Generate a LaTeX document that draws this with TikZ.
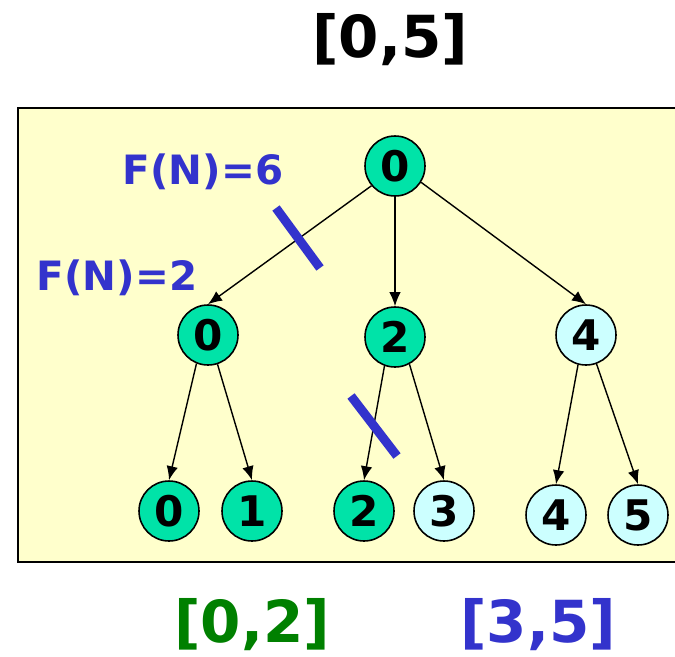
\documentclass[tikz,border=0pt]{standalone}
\usepackage{fontspec}
\setmainfont{DejaVu Sans}
\usetikzlibrary{arrows.meta,positioning}
\definecolor{trgreen}{HTML}{00E3A8}
\definecolor{trcyan}{HTML}{CCFFFF}
\definecolor{trpanel}{HTML}{FFFFCC}
\definecolor{trblue}{HTML}{3333CC}
\definecolor{trdark}{HTML}{008000}
\tikzset{
  nd/.style={circle, draw=black, line width=0.9pt, minimum size=1.2cm, inner sep=0pt, font=\fontsize{24}{26}\selectfont\bfseries},
  on/.style={nd, fill=trgreen},
  off/.style={nd, fill=trcyan},
  arr/.style={-{Latex[length=2.8mm, width=2.3mm]}, line width=0.8pt, color=black},
  cut/.style={line width=1.8mm, color=trblue},
  fn/.style={font=\fontsize{23}{25}\selectfont\bfseries, color=trblue},
  rng/.style={font=\fontsize{33}{35}\selectfont\bfseries},
}
\begin{document}
\begin{tikzpicture}[x=0.02cm, y=-0.02cm]
    \useasboundingbox (0,0) rectangle (675,656);
    \draw[fill=trpanel, line width=1pt] (18,108) rectangle (690,562);
    % ranges
    \node[rng] (all) at (390,40) {[0,5]};
    \node[rng, color=trdark] (lo) at (252,625) {[0,2]};
    \node[rng, color=trblue] (hi) at (538,625) {[3,5]};
    % root
    \node[on] (r) at (395,166) {0};
    % row 2
    \node[on] (a) at (208,335) {0};
    \node[on] (b) at (395,337) {2};
    \node[off] (c) at (586,335) {4};
    % row 3
    \node[on] (a0) at (169,511) {0};
    \node[on] (a1) at (252,511) {1};
    \node[on] (b2) at (364,511) {2};
    \node[off] (b3) at (444,511) {3};
    \node[off] (c4) at (556,515) {4};
    \node[off] (c5) at (638,515) {5};
    \foreach \a/\b in {r.-140/a,r.south/b,r.-32/c,a.-112/a0,a.-72/a1,b.-110/b2,b.-62/b3,c.-105/c4,c.-70/c5} \draw[arr] (\a) -- (\b.north);
    % f values and cuts
    \node[fn] (f6) at (203,172) {F(N)=6};
    \node[fn] (f2) at (117,278) {F(N)=2};
    \coordinate (k1) at (276,208);
    \coordinate (k2) at (320,268);
    \coordinate (k3) at (351,396);
    \coordinate (k4) at (397,456);
    \draw[cut] (k1) -- (k2);
    \draw[cut] (k3) -- (k4);
  \end{tikzpicture}
\end{document}
